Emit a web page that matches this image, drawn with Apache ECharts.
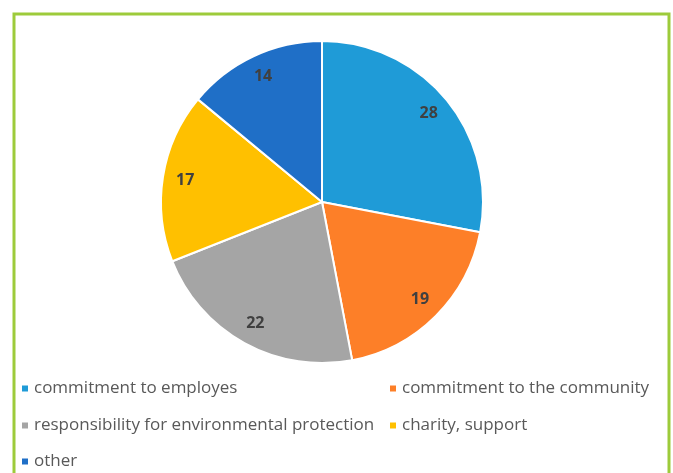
<!DOCTYPE html>
<html><head><meta charset="utf-8">
<script src="https://cdn.jsdelivr.net/npm/echarts@6/dist/echarts.min.js"></script>
<style>html,body{margin:0;padding:0;background:#fff}#c{width:673px;height:473px}</style>
</head><body><div id="c"></div>
<script>
const categories = ['commitment to employes','commitment to the community','responsibility for environmental protection','charity, support','other'];
const values = [28, 19, 22, 17, 14];
const colors = ['#1F9BD7','#FD7F28','#A5A5A5','#FFC000','#1F6FC7'];

const chart = echarts.init(document.getElementById('c'), null, {renderer:'canvas'});
const data = categories.map((n,i)=>({name:n, value:values[i], itemStyle:{color:colors[i]}}));
const legendPos = [[20,380],[388,380],[20,417],[388,417],[20,453]];
const legends = categories.map((n,i)=>({
  data:[n], left:legendPos[i][0], top:legendPos[i][1], padding:0,
  icon:'rect', itemWidth:8, itemHeight:8, itemGap:0,
  itemStyle:{color:colors[i]},
  selectedMode:false,
  textStyle:{fontFamily:'Open Sans', fontSize:17, color:'#595959', padding:[0,0,0,0], lineHeight:17}
}));
chart.setOption({
  animation:false,
  backgroundColor:'#fff',
  legend: legends,
  graphic:[{type:'rect', shape:{x:14,y:14,width:655,height:520}, style:{fill:'none', stroke:'#9DCB3B', lineWidth:3}, silent:true}],
  series:[
    {type:'pie', center:[322,202], radius:[0,161], startAngle:90, clockwise:true,
     data:data, label:{show:false}, labelLine:{show:false},
     itemStyle:{borderColor:'#fff', borderWidth:2}, emphasis:{disabled:true}},
    {type:'pie', center:[322,202], radius:[110,161], startAngle:90, clockwise:true, silent:true,
     data:categories.map((n,i)=>({name:n, value:values[i], itemStyle:{color:'transparent'}})),
     label:{show:true, position:'inside', formatter:'{c}', fontFamily:'Open Sans', fontWeight:'bold', fontSize:16, color:'#404040'},
     labelLine:{show:false}, emphasis:{disabled:true}, legendHoverLink:false}
  ]
});
</script></body></html>
